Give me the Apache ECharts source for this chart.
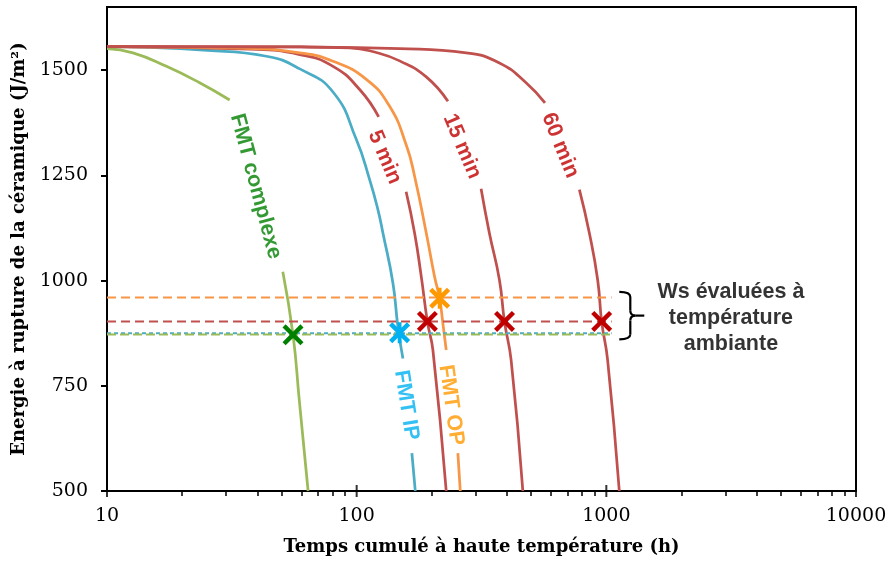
<!DOCTYPE html>
<html><head><meta charset="utf-8">
<script src="https://cdn.jsdelivr.net/npm/echarts@6/dist/echarts.min.js"></script>
<style>html,body{margin:0;padding:0;background:#fff}#c{width:890px;height:562px}</style>
</head><body><div id="c"></div>
<script>
// ---- data ----
const xTickValues = [10, 100, 1000, 10000];
const xMinorTickValues = [20,30,40,50,60,70,80,90,200,300,400,500,600,700,800,900,2000,3000,4000,5000,6000,7000,8000,9000];
const yTickValues = [500, 750, 1000, 1250, 1500];

const greenT = [10, 12.7, 17.3, 23.5, 31, 40, 50.6, 55.6, 58.9, 63.9];
const greenV = [1551, 1541, 1509, 1470, 1429, null, 1021, 871, 716, 500];

const blueT = [10, 15, 23.5, 43.5, 59.2, 80.4, 99.7, 112.7, 121.7, 127.4, 139.7, 146.3, 153.2, 160, 166.4, 171.7];
const blueV = [1556, 1554, 1548, 1533, 1503, 1448, 1335, 1240, 1168, 1113, 994, 890, 815, null, 590, 500];

const orangeT = [10, 35, 59.2, 80.4, 109.3, 135.5, 158, 170.6, 190, 205, 214.8, 221.4, 228.4, 240, 254.3, 260];
const orangeV = [1556, 1552, 1541, 1521, 1478, 1414, 1322, 1248, 1113, 1010, 958, 899, 835, null, 590, 500];

const red5T = [10, 37.3, 59.2, 80.4, 102.8, 122.5, 140, 157.8, 170.6, 181.4, 192.3, 202, 228.4];
const red5V = [1556, 1550, 1537, 1509, 1454, 1389, null, 1211, 1113, 1010, 900, 835, 500];

const red15T = [10, 60, 93.8, 118, 148.6, 190, 232, 270, 315, 340, 373, 391, 415.6, 463];
const red15V = [1556, 1555, 1553, 1543, 1522, 1484, 1426, null, 1218, 1113, 1002, 902, 811, 500];

const red60T = [10, 60, 148.6, 274.6, 373, 477, 568, 680, 780, 855, 923, 958, 1012, 1127];
const red60V = [1556, 1555, 1551, 1541, 1517, 1470, 1422, null, 1216, 1113, 1002, 902, 811, 500];

// Ws evaluated at room temperature (dashed reference levels)
const wsRange = [10, 1050];
const wsOrange = 960;
const wsRed = 903;
const wsBlue = 875;
const wsGreen = 872;

// crosses
const greenMarkT = [55.6];   const greenMarkV = [871];
const blueMarkT = [148.6];   const blueMarkV = [876];
const orangeMarkT = [215];   const orangeMarkV = [958];
const redMarkT = [192, 391, 958]; const redMarkV = [903, 903, 903];

// curve labels
const curveLabels = ['FMT complexe', '5 min', '15 min', '60 min', 'FMT IP', 'FMT OP'];
const curveLabelT = [39.4, 129.4, 264, 653, 158, 239];
const curveLabelV = [1224, 1293, 1319, 1321, 704, 704];

const noteText = 'Ws évaluées à\ntempérature\nambiante';
const noteT = 3155, noteV = 911;
const braceTopLeft = [1127, 973];
const braceBottomRight = [1419, 860.5];

const xTitle = 'Temps cumulé à haute température (h)';
const yTitle = 'Energie à rupture de la céramique (J/m²)';

// ---- build ----
function pairs(ts, vs) { return ts.map((t, i) => vs[i] == null ? [t, '-'] : [t, vs[i]]); }
function zip(ts, vs) { return ts.map((t, i) => [t, vs[i]]); }

const XPATH = 'path://M0,1.5L1.5,0L5,3.5L8.5,0L10,1.5L6.5,5L10,8.5L8.5,10L5,6.5L1.5,10L0,8.5L3.5,5Z';
const STARPATH = 'path://M0,1.5L1.5,0L5,3.5L8.5,0L10,1.5L6.5,5L10,8.5L8.5,10L5,6.5L1.5,10L0,8.5L3.5,5Z M4.1,0L5.9,0L5.9,10L4.1,10Z';

const labelColors = ['#008000', '#C00000', '#C00000', '#C00000', '#00B0F0', '#FF9900'];
const labelRot = [-75, -67, -67, -68, -81, -82];

function curve(name, ts, vs, color) {
  return { name, type: 'line', data: pairs(ts, vs), smooth: 0.5,
    showSymbol: false, symbol: 'none', connectNulls: false, silent: true, z: 2,
    lineStyle: { color, width: 2.75 } };
}
function dashed(level, color, dash) {
  return { type: 'line', data: [[wsRange[0], level], [wsRange[1], level]], symbol: 'none', silent: true, z: 3,
    lineStyle: { color, width: 2, type: dash } };
}
function marks(ts, vs, color, path) {
  return { type: 'scatter', data: zip(ts, vs), symbol: path, symbolSize: 21, silent: true, z: 6,
    itemStyle: { color, opacity: 1 } };
}

const chart = echarts.init(document.getElementById('c'), null, { renderer: 'canvas' });

const option = {
  animation: false,
  backgroundColor: '#fff',
  grid: { left: 107, right: 34, top: 7, bottom: 71, show: true, borderColor: '#000', borderWidth: 2, backgroundColor: 'transparent' },
  xAxis: {
    type: 'log', logBase: 10, min: 10, max: 10000,
    name: xTitle, nameLocation: 'middle', nameGap: 47,
    nameTextStyle: { fontFamily: 'DejaVu Serif', fontWeight: 'bold', fontSize: 18, color: '#000' },
    axisLine: { show: true, onZero: false, lineStyle: { color: '#000', width: 2 } },
    axisTick: { show: true, length: 5, inside: false, customValues: xMinorTickValues, lineStyle: { color: '#000', width: 1.5 } },
    splitLine: { show: false },
    axisLabel: { fontFamily: 'DejaVu Serif', fontSize: 19, color: '#000', margin: 16, customValues: xTickValues,
      formatter: v => String(Math.round(v)) }
  },
  yAxis: {
    type: 'value', min: 500, max: 1650, interval: 250,
    name: yTitle, nameLocation: 'middle', nameGap: 74,
    nameTextStyle: { fontFamily: 'DejaVu Serif', fontWeight: 'bold', fontSize: 18, color: '#000' },
    axisLine: { show: true, lineStyle: { color: '#000', width: 2 } },
    axisTick: { show: true, length: 6, lineStyle: { color: '#000', width: 2 }, customValues: yTickValues },
    splitLine: { show: false },
    axisLabel: { fontFamily: 'DejaVu Serif', fontSize: 19, color: '#000', margin: 19, customValues: yTickValues,
      formatter: v => String(v) }
  },
  series: [
    curve('FMT complexe', greenT, greenV, '#9BBB59'),
    curve('FMT IP', blueT, blueV, '#4BACC6'),
    curve('5 min', red5T, red5V, '#C0504D'),
    curve('FMT OP', orangeT, orangeV, '#F79646'),
    curve('15 min', red15T, red15V, '#C0504D'),
    curve('60 min', red60T, red60V, '#C0504D'),
    dashed(wsOrange, '#F79646', [9, 5]),
    dashed(wsRed, '#C0504D', [9, 5]),
    dashed(wsBlue, '#4BACC6', [4, 3]),
    dashed(wsGreen, '#9BBB59', [9, 4]),
    marks(greenMarkT, greenMarkV, '#008000', XPATH),
    marks(blueMarkT, blueMarkV, '#00B0F0', STARPATH),
    marks(redMarkT, redMarkV, '#C00000', XPATH),
    marks(orangeMarkT, orangeMarkV, '#FF9900', STARPATH),
    { type: 'scatter', silent: true, z: 7, symbolSize: 2, itemStyle: { color: 'rgba(0,0,0,0)' },
      data: curveLabels.map((txt, i) => ({ value: [curveLabelT[i], curveLabelV[i]], name: txt,
        label: { show: true, position: 'inside', formatter: txt, rotate: labelRot[i], color: labelColors[i],
          fontFamily: 'Liberation Sans', fontWeight: 'bold', fontSize: 21.5, align: 'center', verticalAlign: 'middle' } })) },
    { type: 'scatter', silent: true, z: 7, symbolSize: 2, itemStyle: { color: 'rgba(0,0,0,0)' },
      data: [{ value: [noteT, noteV], name: 'note', label: { show: true, position: 'inside', formatter: noteText, color: '#000',
        fontFamily: 'Liberation Sans', fontWeight: 'bold', fontSize: 21.5, lineHeight: 26, align: 'center', verticalAlign: 'middle' } }] },
    // major x ticks crossing the axis
    { type: 'scatter', silent: true, clip: false, z: 8, symbol: 'rect', symbolSize: [2, 12],
      itemStyle: { color: '#000' }, data: xTickValues.map(v => [v, 500]) }
  ]
};
chart.setOption(option);

// curly brace next to the dashed levels
const p0 = chart.convertToPixel({ seriesIndex: 0 }, braceTopLeft);
const p1 = chart.convertToPixel({ seriesIndex: 0 }, braceBottomRight);
const x0 = p0[0], y0 = p0[1], x1 = p1[0], y1 = p1[1];
const xm = x0 + 11, mid = (y0 + y1) / 2, r = 5;
const bs = { stroke: '#000', lineWidth: 2.2, fill: null };
chart.setOption({ graphic: [
  { type: 'bezierCurve', silent: true, z: 100, shape: { x1: x0, y1: y0, cpx1: xm, cpy1: y0, x2: xm, y2: y0 + r }, style: bs },
  { type: 'line', silent: true, z: 100, shape: { x1: xm, y1: y0 + r, x2: xm, y2: mid - r }, style: bs },
  { type: 'bezierCurve', silent: true, z: 100, shape: { x1: xm, y1: mid - r, cpx1: xm, cpy1: mid, x2: xm + r, y2: mid }, style: bs },
  { type: 'line', silent: true, z: 100, shape: { x1: xm + r, y1: mid, x2: x1, y2: mid }, style: bs },
  { type: 'bezierCurve', silent: true, z: 100, shape: { x1: xm + r, y1: mid, cpx1: xm, cpy1: mid, x2: xm, y2: mid + r }, style: bs },
  { type: 'line', silent: true, z: 100, shape: { x1: xm, y1: mid + r, x2: xm, y2: y1 - r }, style: bs },
  { type: 'bezierCurve', silent: true, z: 100, shape: { x1: xm, y1: y1 - r, cpx1: xm, cpy1: y1, x2: x0, y2: y1 }, style: bs }
] });
</script>
</body></html>
